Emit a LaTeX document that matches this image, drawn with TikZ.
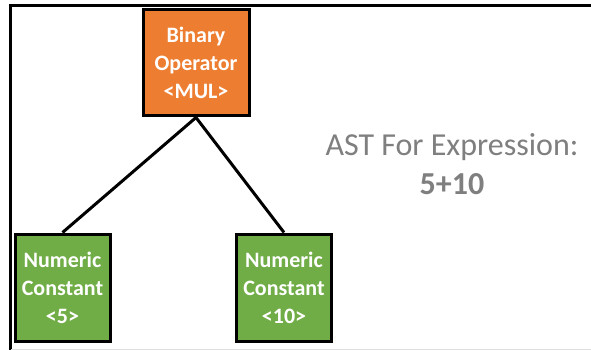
\documentclass[tikz,border=0pt]{standalone}
\usepackage{fontspec}
\setmainfont{Carlito}
\definecolor{opfill}{HTML}{ED7D31}
\definecolor{leaffill}{HTML}{70AD47}
\definecolor{captiongray}{HTML}{7F7F7F}
\begin{document}
\begin{tikzpicture}[x=1pt,y=-1pt,
  treebox/.style={draw=black, line width=3pt, text=white, font=\fontsize{22}{28}\selectfont\bfseries,
    align=center, inner sep=0pt},
  opbox/.style={treebox, fill=opfill, minimum width=106pt, minimum height=106pt},
  leafbox/.style={treebox, fill=leaffill, minimum width=95pt, minimum height=107pt},
  edge/.style={draw=black, line width=3pt}]
\useasboundingbox (0,0) rectangle (591,350);
\fill[white] (0,0) rectangle (591,350);
% outer frame: top and left rules, faint bottom rule
\draw[line width=3pt] (10,350) -- (10,6) -- (591,6);
\draw[line width=1pt, gray!25] (11,349.5) -- (591,349.5);
% tree
\node[opbox] (op) at (196,63) {Binary\\Operator\\<MUL>};
\node[leafbox] (c5) at (62.5,287.5) {Numeric\\Constant\\<5>};
\node[leafbox] (c10) at (284,287.5) {Numeric\\Constant\\<10>};
\draw[edge] (op.south) -- (c5.north);
\draw[edge] (op.south) -- (c10.north);
% caption
\node[text=captiongray, align=center, font=\fontsize{32}{39}\selectfont] (cap) at (452,164)
  {AST For Expression:\\\textbf{5+10}};
\end{tikzpicture}
\end{document}
